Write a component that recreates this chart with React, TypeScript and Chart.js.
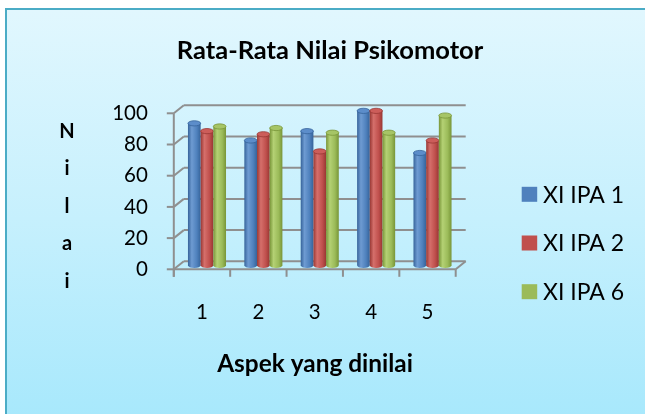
import React, { useEffect, useRef } from "react";
import { Chart, registerables } from "chart.js";

Chart.register(...registerables);

// ---- data ----
const categories = ["1", "2", "3", "4", "5"];
const seriesNames = ["XI IPA 1", "XI IPA 2", "XI IPA 6"];
const ipa1 = [91, 80, 86, 99, 72];
const ipa2 = [86, 84, 73, 99, 80];
const ipa6 = [89, 88, 85, 85, 96];
const yTickValues = [0, 20, 40, 60, 80, 100];
const chartTitle = "Rata-Rata Nilai Psikomotor";
const xTitle = "Aspek yang dinilai";
const yTitleLetters = ["N", "i", "l", "a", "i"];

// ---- styles ----
const PALETTE = [
  { base: "#4f81bd", dark: "#36639a", light: "#6e9bd2", cap: "#5c8dca" },
  { base: "#c0504d", dark: "#983733", light: "#d56f6b", cap: "#cc5d5a" },
  { base: "#9bbb59", dark: "#789538", light: "#b4d174", cap: "#a6c566" },
];
const GRID = "#8f8f8f";
const DX = 5;
const DY = 4;
const FONT = "Lato, 'Open Sans', sans-serif";

function drawCylinder(ctx: CanvasRenderingContext2D, cx: number, top: number, base: number, w: number, pal: any) {
  const l = cx - w / 2;
  const r = cx + w / 2;
  const ry = 2.6;
  const g = ctx.createLinearGradient(l, 0, r, 0);
  g.addColorStop(0, pal.dark);
  g.addColorStop(0.3, pal.light);
  g.addColorStop(0.7, pal.base);
  g.addColorStop(1, pal.dark);
  ctx.fillStyle = g;
  ctx.beginPath();
  ctx.moveTo(l, top);
  ctx.lineTo(l, base);
  ctx.ellipse(cx, base, w / 2, ry, 0, Math.PI, 0, true);
  ctx.lineTo(r, top);
  ctx.closePath();
  ctx.fill();
  ctx.beginPath();
  ctx.ellipse(cx, top, w / 2, ry, 0, 0, Math.PI * 2);
  ctx.fillStyle = pal.cap;
  ctx.fill();
  ctx.lineWidth = 0.8;
  ctx.strokeStyle = pal.dark;
  ctx.stroke();
}

const depthPlugin = {
  id: "depth3d",
  beforeDatasetsDraw(chart: any) {
    const { ctx, chartArea: a, scales } = chart;
    const xs = scales.x;
    const ys = scales.y;
    ctx.save();
    ctx.strokeStyle = GRID;
    ctx.lineWidth = 2;
    const line = (x1: number, y1: number, x2: number, y2: number) => {
      ctx.beginPath();
      ctx.moveTo(x1, y1);
      ctx.lineTo(x2, y2);
      ctx.stroke();
    };
    const fl = a.left - DX;
    yTickValues.forEach((v) => {
      const p = ys.getPixelForValue(v);
      line(a.left + DX, p - DY, a.right + DX, p - DY);
      line(fl, p + DY, a.left + DX, p - DY);
      line(fl - 7, p + DY, fl, p + DY);
    });
    const f0 = ys.getPixelForValue(0) + DY;
    const fTop = ys.getPixelForValue(100) + DY;
    line(fl, fTop, fl, f0 + 7.5);
    line(fl, f0, a.right - DX, f0);
    line(a.right - DX, f0, a.right + DX, f0 - 2 * DY);
    const n = categories.length;
    const cw = (xs.getPixelForValue(n - 1) - xs.getPixelForValue(0)) / (n - 1);
    for (let i = 0; i <= n; i++) {
      const bx = xs.getPixelForValue(Math.min(i, n - 1)) + (i < n ? -cw / 2 : cw / 2) - DX;
      line(bx, f0, bx, f0 + 7.5);
    }
    chart.data.datasets.forEach((_ds: any, di: number) => {
      const meta = chart.getDatasetMeta(di);
      meta.data.forEach((el: any) => {
        const p = el.getProps(["x", "y", "base", "width"], true);
        drawCylinder(ctx, p.x, p.y, p.base, p.width, PALETTE[di]);
      });
    });
    ctx.restore();
    return false;
  },
  afterDraw(chart: any) {
    const { ctx } = chart;
    ctx.save();
    ctx.fillStyle = "#000";
    // chart title
    ctx.textAlign = "center";
    ctx.textBaseline = "alphabetic";
    ctx.font = `bold 25.5px ${FONT}`;
    ctx.fillText(chartTitle, 330, 58.5);
    // x title
    ctx.font = `bold 24.4px ${FONT}`;
    ctx.fillText(xTitle, 315, 372);
    // y title (stacked letters)
    ctx.font = `bold 20px ${FONT}`;
    yTitleLetters.forEach((ch, i) => ctx.fillText(ch, 67, 137.5 + i * 37.6));
    // legend
    ctx.textAlign = "left";
    ctx.textBaseline = "middle";
    ctx.font = `23px ${FONT}`;
    seriesNames.forEach((name, i) => {
      const cy = 194.3 + i * 48.7;
      ctx.fillStyle = PALETTE[i].base;
      ctx.fillRect(521.7, cy - 7.5, 15.5, 15);
      ctx.fillStyle = "#000";
      ctx.fillText(name, 543, cy + 1);
    });
    ctx.restore();
  },
};

export default function App() {
  const ref = useRef<HTMLCanvasElement>(null);
  useEffect(() => {
    if (!ref.current) return;
    const chart = new Chart(ref.current, {
      type: "bar",
      data: {
        labels: categories,
        datasets: [
          { label: seriesNames[0], data: ipa1, backgroundColor: PALETTE[0].base },
          { label: seriesNames[1], data: ipa2, backgroundColor: PALETTE[1].base },
          { label: seriesNames[2], data: ipa6, backgroundColor: PALETTE[2].base },
        ],
      },
      options: {
        responsive: false,
        animation: false,
        layout: { padding: { left: 78.8, right: 184.3, top: 109.3, bottom: 48.7 } },
        datasets: { bar: { categoryPercentage: 0.675, barPercentage: 1 } },
        plugins: {
          legend: { display: false },
          title: { display: false },
          tooltip: { enabled: false },
        },
        scales: {
          x: {
            grid: { display: false, drawTicks: false },
            border: { display: false },
            ticks: { font: { family: FONT, size: 20.5 }, color: "#000", padding: 35, labelOffset: -5 },
            afterFit: (s: any) => {
              s.height = 100;
            },
          },
          y: {
            min: 0,
            max: 100,
            grid: { display: false, drawTicks: false },
            border: { display: false },
            ticks: { stepSize: 20, font: { family: FONT, size: 20.5 }, color: "#000", padding: 31, labelOffset: 4 },
            afterFit: (s: any) => {
              s.width = 100;
            },
          },
        },
      } as any,
      plugins: [depthPlugin],
    });
    return () => chart.destroy();
  }, []);

  return (
    <div style={{ position: "fixed", left: 0, top: 0, width: 645, height: 414, background: "#fff", overflow: "hidden" }}>
      <div
        style={{
          position: "absolute",
          left: 5,
          top: 8,
          width: 660,
          height: 420,
          borderTop: "2.5px solid #4bacc6",
          borderLeft: "2.5px solid #4bacc6",
          background: "linear-gradient(180deg, #e1f7fe 0%, #c6f0fd 50%, #a6e8fc 100%)",
          boxSizing: "border-box",
        }}
      />
      <canvas ref={ref} width={645} height={414} style={{ position: "absolute", left: 0, top: 0, width: 645, height: 414 }} />
    </div>
  );
}
